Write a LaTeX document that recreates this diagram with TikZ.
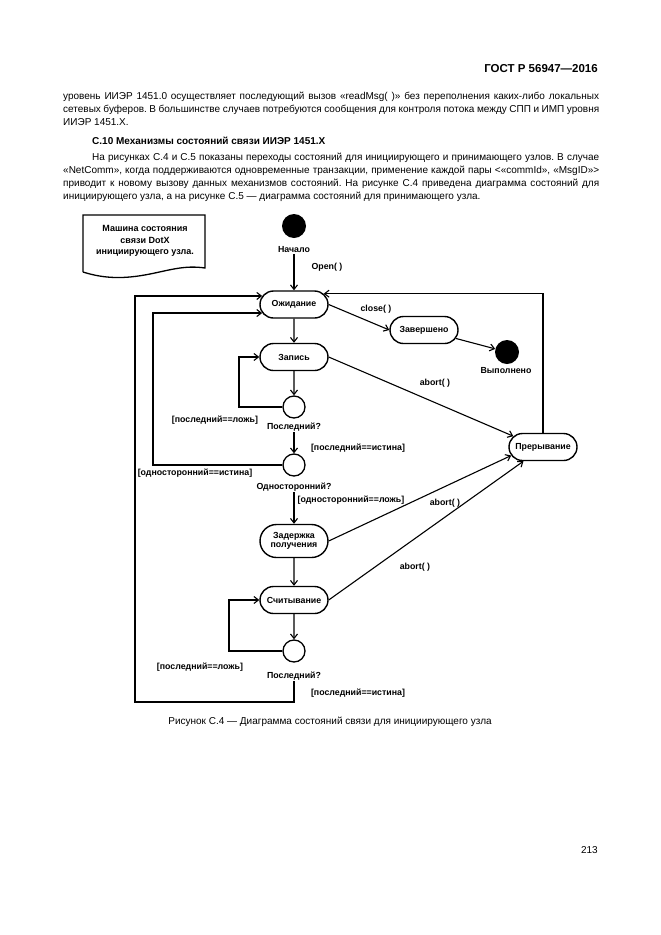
\documentclass[tikz,border=0pt]{standalone}
\usepackage{fontspec}
\setmainfont{Liberation Sans}
\usetikzlibrary{arrows.meta,shapes.misc,calc}
\frenchspacing
\begin{document}
\begin{tikzpicture}[x=1pt,y=-1pt,
  arr/.style={line width=1.1pt,-{Straight Barb[length=4.5pt,width=7pt,line width=1.1pt]}},
  state/.style={rounded rectangle, draw, line width=1.4pt, minimum width=70pt, minimum height=27pt, inner sep=1pt, font=\fontsize{8.8}{9.6}\selectfont\bfseries, align=center},
  choice/.style={circle, draw, line width=1.3pt, minimum size=22pt, inner sep=0pt},
  blob/.style={circle, fill=black, minimum size=24pt, inner sep=0pt},
  lbl/.style={font=\fontsize{8.8}{9.6}\selectfont\bfseries, inner sep=1pt},
  bodyline/.style={anchor=base west, inner sep=0pt, font=\fontsize{10}{13}\selectfont},
  head/.style={anchor=base east, inner sep=0pt, font=\fontsize{11.5}{13}\selectfont\bfseries}
]
\useasboundingbox (0,0) rectangle (661,935);
% page text
\node[head] (hdr) at (598,72) {ГОСТ Р 56947—2016};
\node[bodyline] (p1) at (63,99) {\makebox[536pt][s]{уровень ИИЭР 1451.0 осуществляет последующий вызов «readMsg( )» без переполнения каких-либо локальных}};
\node[bodyline] (p2) at (63,112) {\makebox[536pt][s]{сетевых буферов. В большинстве случаев потребуются сообщения для контроля потока между СПП и ИМП уровня}};
\node[bodyline] (p3) at (63,125) {ИИЭР 1451.X.};
\node[bodyline, font=\fontsize{10}{13}\selectfont\bfseries] (h1) at (92,144) {С.10 Механизмы состояний связи ИИЭР 1451.X};
\node[bodyline] (q1) at (63,160) {\makebox[536pt][s]{\hspace*{29pt}На рисунках С.4 и С.5 показаны переходы состояний для инициирующего и принимающего узлов. В случае}};
\node[bodyline] (q2) at (63,173) {\makebox[536pt][s]{«NetComm», когда поддерживаются одновременные транзакции, применение каждой пары <«commId», «MsgID»>}};
\node[bodyline] (q3) at (63,186) {\makebox[536pt][s]{приводит к новому вызову данных механизмов состояний. На рисунке С.4 приведена диаграмма состояний для}};
\node[bodyline] (q4) at (63,199) {инициирующего узла, а на рисунке С.5 — диаграмма состояний для принимающего узла.};
\node[anchor=base, inner sep=0pt, font=\fontsize{10}{13}\selectfont] (cap) at (330,724) {Рисунок С.4 — Диаграмма состояний связи для инициирующего узла};
\node[anchor=base east, inner sep=0pt, font=\fontsize{10}{13}\selectfont] (pg) at (598,853) {213};
% note
\draw[line width=1.3pt] (83,272) -- (83,215) -- (205,215) -- (205,268)
  .. controls (185,265) and (170,270) .. (150,274) .. controls (125,279) and (105,279) .. (83,272);
\node[lbl, align=center, font=\fontsize{9}{11.2}\selectfont\bfseries] (note) at (145,241) {Машина состояния\\связи DotX\\инициирующего узла.};
% coordinates
\coordinate (F) at (135,702);
\coordinate (I) at (153,0);
\coordinate (L1) at (239,0);
\coordinate (L3) at (229,0);
% nodes
\node[blob] (start) at (294,226) {};
\node[lbl] (startl) at (294,250) {Начало};
\node[state] (wait) at (294,304.5) {Ожидание};
\node[state] (write) at (294,357) {Запись};
\node[choice] (c1) at (294,407) {};
\node[lbl] (c1l) at (294,427) {Последний?};
\node[choice] (c2) at (294,465) {};
\node[lbl] (c2l) at (294,487) {Односторонний?};
\node[state, minimum height=33pt] (delay) at (294,541) {Задержка\\получения};
\node[state] (read) at (294,600) {Считывание};
\node[choice] (c3) at (294,651) {};
\node[lbl] (c3l) at (294,676) {Последний?};
\node[state] (done) at (424,330) {Завершено};
\node[blob] (fin) at (507,352) {};
\node[lbl] (finl) at (506,371) {Выполнено};
\node[state] (brk) at (543,447) {Прерывание};
% labels
\node[lbl] (lopen) at (327,267) {Open( )};
\node[lbl] (lclose) at (376,309) {close( )};
\node[lbl] (la1) at (435,383) {abort( )};
\node[lbl] (la2) at (445,503) {abort( )};
\node[lbl] (la3) at (415,567) {abort( )};
\node[lbl] (g1) at (215,420) {[последний==ложь]};
\node[lbl] (g2) at (358,448) {[последний==истина]};
\node[lbl] (g3) at (195,473) {[односторонний==истина]};
\node[lbl] (g4) at (351,500) {[односторонний==ложь]};
\node[lbl] (g5) at (200,667) {[последний==ложь]};
\node[lbl] (g6) at (358,693) {[последний==истина]};
% connectors
\draw[arr] (startl.south) -- (wait.north);
\draw[arr] (wait) -- (write);
\draw[arr] (write) -- (c1);
\draw[arr] (c1l.south) -- (c2.north);
\draw[arr] (c2l.south) -- (delay.north);
\draw[arr] (delay) -- (read);
\draw[arr] (read) -- (c3);
\draw[arr] (c1.west) -| (write.west -| L1) -- (write.west);
\draw[arr] (c3.west) -| (read.west -| L3) -- (read.west);
\draw[arr] (c2.west) -| (wait.195 -| I) -- (wait.195);
\draw[arr] (c3l.south) |- (F) |- (wait.165);
\draw[arr] (brk.north) |- (wait.20);
\draw[arr] (wait.east) -- (done.west);
\draw[arr] (done) -- (fin);
\draw[arr] (write.east) -- (brk.160);
\draw[arr] (delay.east) -- (brk.195);
\draw[arr] (read.east) -- (brk.216);
\end{tikzpicture}
\end{document}
